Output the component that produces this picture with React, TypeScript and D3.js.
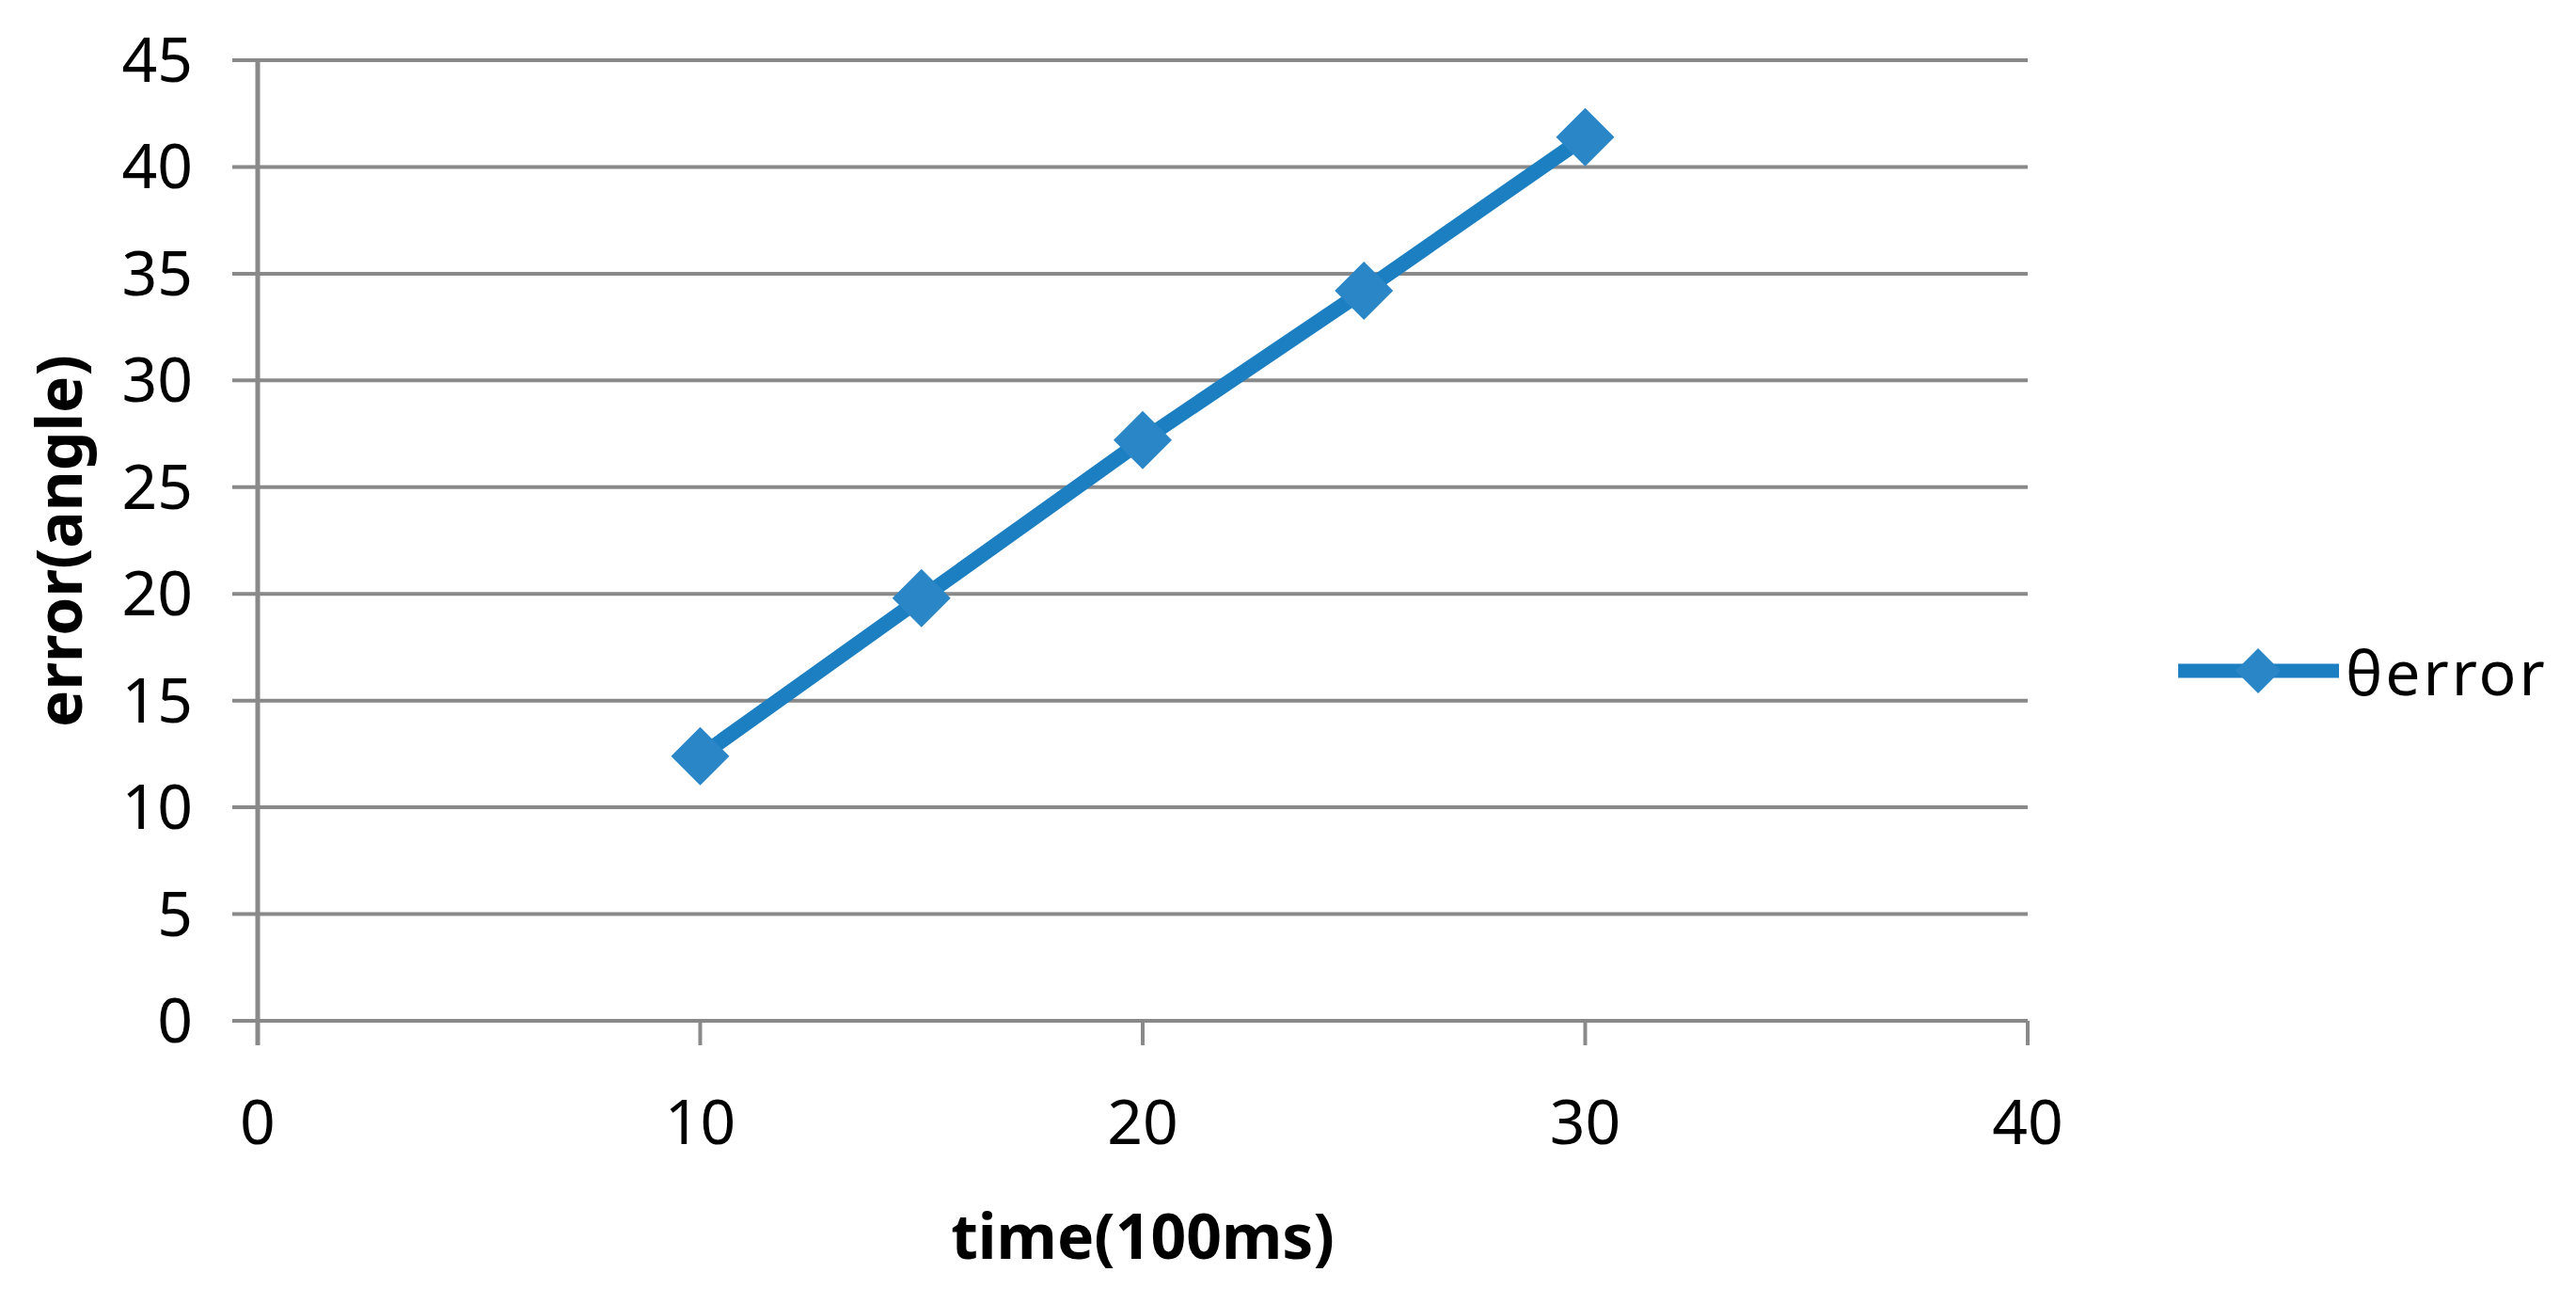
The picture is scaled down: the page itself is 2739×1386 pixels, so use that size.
import React from "react";
import * as d3 from "d3";

const times = [10, 15, 20, 25, 30];
const errors = [12.4, 19.8, 27.2, 34.2, 41.4];
const xTicks = [0, 10, 20, 30, 40];
const yTicks = [0, 5, 10, 15, 20, 25, 30, 35, 40, 45];
const seriesName = "θerror";
const xTitle = "time(100ms)";
const yTitle = "error(angle)";

const W = 2739;
const H = 1386;
const FONT = "'Noto Sans', 'Liberation Sans', sans-serif";
const GRID = "#898989";
const LINE = "#1C7FC2";
const MARK = "#2A86C6";

function diamond(cx: number, cy: number, r: number) {
  return `M${cx},${cy - r}L${cx + r},${cy}L${cx},${cy + r}L${cx - r},${cy}Z`;
}

export default function App() {
  const x = d3.scaleLinear().domain([0, 40]).range([274, 2156]);
  const y = d3.scaleLinear().domain([0, 45]).range([1085, 64]);
  const pts = times.map((t, i) => [x(t), y(errors[i])] as [number, number]);
  const line = d3.line().curve(d3.curveLinear)(pts) || "";
  const legY = 713;

  return (
    <svg
      width={W}
      height={H}
      style={{ position: "absolute", left: 0, top: 0, background: "#fff" }}
      fontFamily={FONT}
    >
      <rect x={0} y={0} width={W} height={H} fill="#fff" />
      {yTicks.map((v) => (
        <line key={"g" + v} x1={247} x2={x(40)} y1={y(v)} y2={y(v)} stroke={GRID} strokeWidth={4} />
      ))}
      <line x1={x(0)} x2={x(0)} y1={y(45) - 2} y2={y(0) + 26} stroke={GRID} strokeWidth={5} />
      {xTicks.map((v) => (
        <line key={"xt" + v} x1={x(v)} x2={x(v)} y1={y(0)} y2={y(0) + 26} stroke={GRID} strokeWidth={4} />
      ))}
      {yTicks.map((v) => (
        <text key={"yl" + v} x={205} y={y(v) - 3} textAnchor="end" dominantBaseline="central" fontSize={66} fill="#000">
          {v}
        </text>
      ))}
      {xTicks.map((v) => (
        <text key={"xl" + v} x={x(v)} y={1190} textAnchor="middle" dominantBaseline="central" fontSize={66} fill="#000">
          {v}
        </text>
      ))}
      <text x={1215} y={1312} textAnchor="middle" dominantBaseline="central" fontSize={66} fontWeight="bold" fill="#000">
        {xTitle}
      </text>
      <text
        transform={`translate(61,575) rotate(-90)`}
        textAnchor="middle"
        dominantBaseline="central"
        fontSize={66}
        fontWeight="bold"
        fill="#000"
      >
        {yTitle}
      </text>
      <path d={line} fill="none" stroke={LINE} strokeWidth={16} strokeLinejoin="round" />
      {pts.map(([px, py], i) => (
        <path key={"m" + i} d={diamond(px, py, 31)} fill={MARK} />
      ))}
      <line x1={2316} x2={2487} y1={legY} y2={legY} stroke={LINE} strokeWidth={15} />
      <path d={diamond(2401, legY, 24)} fill={MARK} />
      <text x={2494} y={legY} dominantBaseline="central" fontSize={66} letterSpacing={3} fill="#000">
        {seriesName}
      </text>
    </svg>
  );
}
